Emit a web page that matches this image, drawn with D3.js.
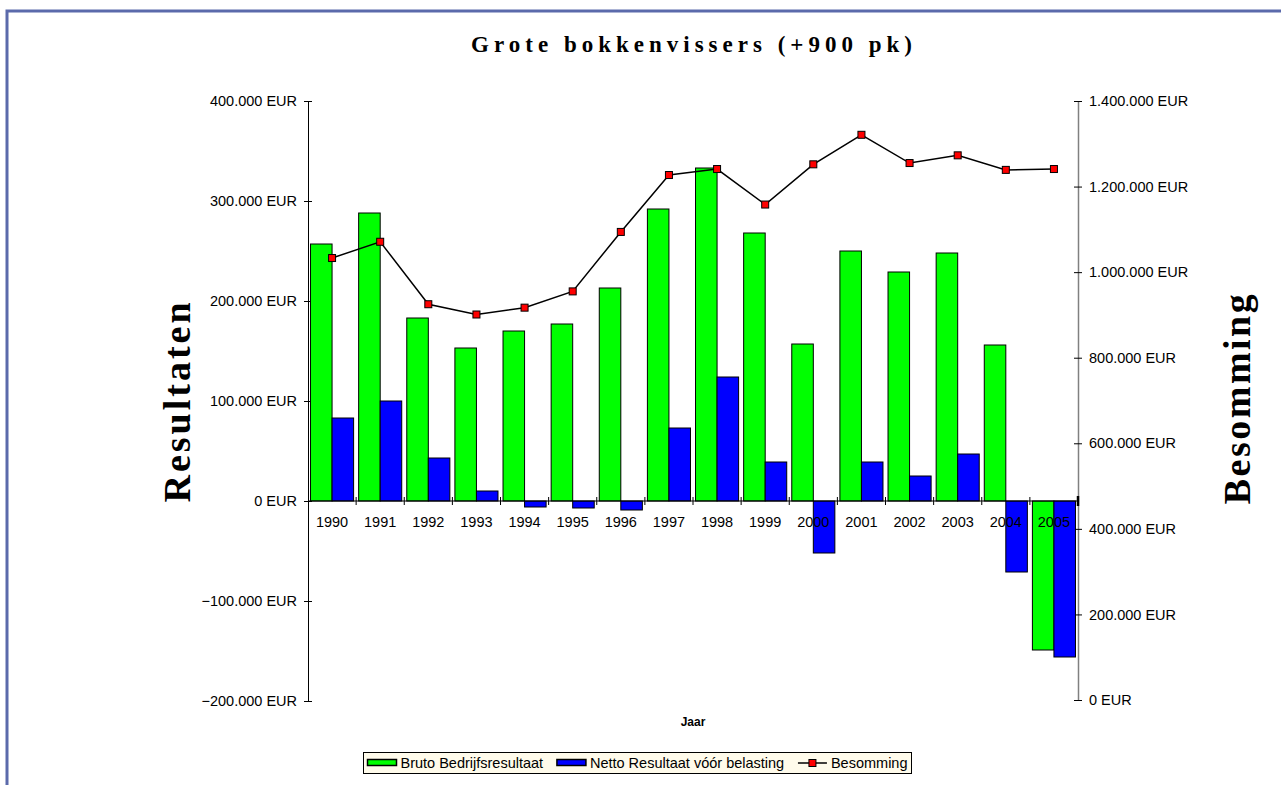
<!DOCTYPE html>
<html><head><meta charset="utf-8">
<script src="https://cdn.jsdelivr.net/npm/d3@7"></script>
<style>
html,body{margin:0;padding:0;background:#fff;}
svg{display:block;}
</style></head>
<body>
<svg id="c" width="1281" height="785"></svg>
<script>
const years = ["1990","1991","1992","1993","1994","1995","1996","1997","1998","1999","2000","2001","2002","2003","2004","2005"];
const bruto = [257000,288000,183000,153000,170000,177000,213000,292000,333000,268000,157000,250000,229000,248000,156000,-149000];
const netto = [83000,100000,43000,10000,-6000,-7000,-9000,73000,124000,39000,-52000,39000,25000,47000,-71000,-156000];
const besomming = [1033000,1071000,925000,901000,917000,955000,1094000,1227000,1241000,1158000,1252000,1321000,1255000,1273000,1239000,1241000];
const leftTicks = [-200000,-100000,0,100000,200000,300000,400000];
const rightTicks = [0,200000,400000,600000,800000,1000000,1200000,1400000];
const title = "Grote bokkenvissers (+900 pk)";
const seriesNames = ["Bruto Bedrijfsresultaat","Netto Resultaat vóór belasting","Besomming"];

const svg = d3.select("#c");
const fmt = v => d3.format(",")(v).replace(/,/g,".") + " EUR";
const SANS = "Liberation Sans, Arial, sans-serif";
const SERIF = "Liberation Serif, Times New Roman, serif";

// frame
svg.append("path").attr("d","M7,785 L7,11 L1281,11").attr("fill","none").attr("stroke","#5b6aab").attr("stroke-width",3);

const x0 = 308, x1 = 1078;
const x = d3.scaleBand().domain(years).range([x0,x1]).paddingInner(0).paddingOuter(0);
const xs = d3.scaleBand().domain(["b","n"]).range([0,x.bandwidth()]).paddingOuter(0.117).paddingInner(0);
const yL = d3.scaleLinear().domain([-200000,400000]).range([701,101]);
const yR = d3.scaleLinear().domain([0,1400000]).range([700,101]);

// title
svg.append("text").attr("x",694).attr("y",52).attr("text-anchor","middle")
  .attr("font-family",SERIF).attr("font-weight","bold")
  .attr("font-size",23).attr("letter-spacing","5px").text(title);

// left axis
const gL = svg.append("g").attr("transform",`translate(${x0},0)`)
  .call(d3.axisLeft(yL).tickValues(leftTicks).tickFormat(fmt).tickSize(0).tickPadding(11));
gL.select(".domain").attr("stroke","#000");
gL.selectAll(".tick line").attr("x1",-4).attr("x2",4).attr("stroke","#000");
gL.selectAll("text").attr("font-family",SANS).attr("font-size",14.5).attr("fill","#000");

// right axis
const gR = svg.append("g").attr("transform",`translate(${x1},0)`)
  .call(d3.axisRight(yR).tickValues(rightTicks).tickFormat(fmt).tickSize(0).tickPadding(11));
gR.select(".domain").attr("stroke","#808080").attr("stroke-width",1.5);
gR.selectAll(".tick line").attr("x1",-4).attr("x2",4).attr("stroke","#000");
gR.selectAll("text").attr("font-family",SANS).attr("font-size",14.5).attr("fill","#000");

// bars
const groups = svg.append("g").selectAll("g").data(years).join("g")
  .attr("transform",d=>`translate(${x(d)},0)`);
groups.append("rect")
  .attr("x",xs("b")).attr("width",xs.bandwidth())
  .attr("y",(d,i)=>yL(Math.max(0,bruto[i]))).attr("height",(d,i)=>Math.abs(yL(bruto[i])-yL(0)))
  .attr("fill","#00ff00").attr("stroke","#000").attr("stroke-width",1);
groups.append("rect")
  .attr("x",xs("n")).attr("width",xs.bandwidth())
  .attr("y",(d,i)=>yL(Math.max(0,netto[i]))).attr("height",(d,i)=>Math.abs(yL(netto[i])-yL(0)))
  .attr("fill","#0000ff").attr("stroke","#000").attr("stroke-width",1);

// x axis at zero
const gX = svg.append("g").attr("transform",`translate(0,${yL(0)})`);
gX.append("line").attr("x1",x0).attr("x2",x1).attr("stroke","#000");
gX.selectAll("line.t").data(years.slice(1)).join("line").attr("class","t")
  .attr("x1",d=>x(d)).attr("x2",d=>x(d)).attr("y1",-4).attr("y2",4).attr("stroke","#000");
gX.append("line").attr("x1",x1).attr("x2",x1).attr("y1",-5).attr("y2",5).attr("stroke","#000").attr("stroke-width",2.5);
gX.selectAll("text").data(years).join("text")
  .attr("x",d=>x(d)+x.bandwidth()/2).attr("y",26).attr("text-anchor","middle")
  .attr("font-family",SANS).attr("font-size",14.5).text(d=>d);

// line
const line = d3.line().x((d,i)=>x(years[i])+x.bandwidth()/2).y(d=>yR(d));
svg.append("path").datum(besomming).attr("d",line).attr("fill","none").attr("stroke","#000").attr("stroke-width",1.5);
svg.append("g").selectAll("rect").data(besomming).join("rect")
  .attr("x",(d,i)=>x(years[i])+x.bandwidth()/2-3.5).attr("y",d=>yR(d)-3.5)
  .attr("width",7).attr("height",7).attr("fill","#ff0000").attr("stroke","#000").attr("stroke-width",1);

// axis titles
svg.append("text").attr("transform","translate(190,401) rotate(-90)").attr("text-anchor","middle")
  .attr("font-family",SERIF).attr("font-weight","bold")
  .attr("font-size",38).attr("letter-spacing","3px").text("Resultaten");
svg.append("text").attr("transform","translate(1250,398) rotate(-90)").attr("text-anchor","middle")
  .attr("font-family",SERIF).attr("font-weight","bold")
  .attr("font-size",38).attr("letter-spacing","2.5px").text("Besomming");
svg.append("text").attr("x",693).attr("y",726).attr("text-anchor","middle")
  .attr("font-family",SANS).attr("font-weight","bold")
  .attr("font-size",12).text("Jaar");

// legend
const lg = svg.append("g");
const boxL = 363.5, boxR = 911.5;
lg.append("rect").attr("x",boxL).attr("y",752.5).attr("width",boxR-boxL).attr("height",21)
  .attr("fill","#fffbeb").attr("stroke","#000");
const lcolors = ["#00ff00","#0000ff"];
// measure texts to lay out items across the box
const items = seriesNames.map(s=>{
  const t = lg.append("text").attr("y",768).attr("font-family",SANS).attr("font-size",14.5).text(s);
  return {t, w: t.node().getComputedTextLength()};
});
const symW = 29, padS = 4;
const totalText = d3.sum(items, d=>d.w);
const gap = ((boxR-boxL) - 8 - totalText - 3*(symW+padS)) / 2;
let cx = boxL + 4;
items.forEach((it,i)=>{
  if (i < 2) {
    lg.append("rect").attr("x",cx).attr("y",759.5).attr("width",symW).attr("height",6)
      .attr("fill",lcolors[i]).attr("stroke","#000").attr("stroke-width",1.5);
  } else {
    lg.append("line").attr("x1",cx).attr("x2",cx+symW).attr("y1",763).attr("y2",763).attr("stroke","#000").attr("stroke-width",1.5);
    lg.append("rect").attr("x",cx+symW/2-3.5).attr("y",759.5).attr("width",7).attr("height",7).attr("fill","#ff0000").attr("stroke","#000");
  }
  it.t.attr("x",cx+symW+padS);
  cx += symW + padS + it.w + gap;
});
</script>
</body></html>
